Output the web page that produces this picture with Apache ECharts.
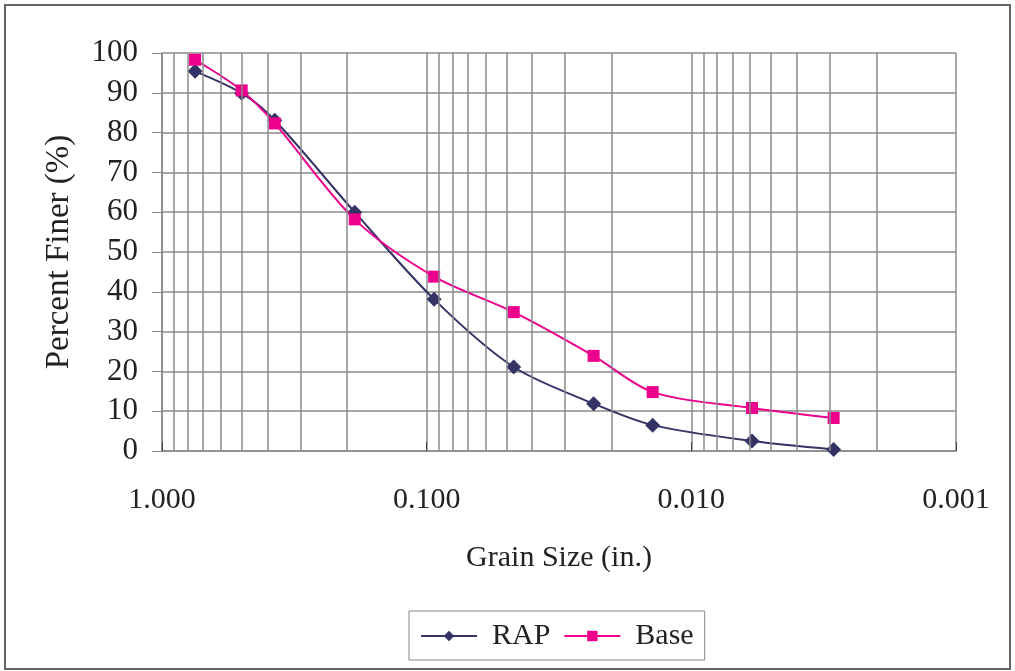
<!DOCTYPE html>
<html>
<head>
    <meta charset="utf-8">
    <title>Grain Size</title>
    <script src="https://cdn.jsdelivr.net/npm/echarts@6/dist/echarts.min.js"></script>
    <style type="text/css">
        html,body{
            margin: 0;
            width: 100%;
            height: 100%;
            background: #fff;
        }
        #main{
            width: 1015px;
            height: 671px;
        }
    </style>
</head>
<body>
    <div id="main"></div>
    <script>
        // grain size (in.), sieve openings
        var sizes = [0.75, 0.5, 0.375, 0.187, 0.0937, 0.0469, 0.0234, 0.0140, 0.0059, 0.0029];
        // percent finer
        var rap = [95.4, 89.9, 83.1, 60.0, 38.1, 21.1, 11.9, 6.5, 2.5, 0.4];
        var base = [98.3, 90.6, 82.3, 58.2, 43.8, 34.9, 23.9, 14.8, 10.8, 8.3];
        var yTicks = [0, 10, 20, 30, 40, 50, 60, 70, 80, 90, 100];
        // minor log grid lines
        var decades = [1, 0.1, 0.01];
        var steps = [9, 8, 7, 6, 5, 4, 3, 2];

        var minorLines = [];
        decades.forEach(function (d) {
            steps.forEach(function (s) {
                minorLines.push({ xAxis: d * s / 10 });
            });
        });

        function pairs(ys) {
            return sizes.map(function (x, i) { return [x, ys[i]]; });
        }

        var font = 'Liberation Serif';
        var gridColor = '#8a8a8a';

        var myChart = echarts.init(document.getElementById('main'));
        var option = {
            animation: false,
            textStyle: { fontFamily: font },
            graphic: [{
                type: 'rect',
                shape: { x: 5, y: 5, width: 1005, height: 664 },
                style: { fill: 'none', stroke: '#666', lineWidth: 2 },
                z: 0
            }],
            grid: {
                left: 162,
                right: 59,
                top: 53,
                bottom: 220
            },
            legend: {
                data: ['RAP', 'Base'],
                left: 409,
                top: 611,
                itemWidth: 56,
                itemHeight: 13,
                itemGap: 13,
                padding: [10, 11, 9, 11],
                borderColor: '#888',
                borderWidth: 1,
                textStyle: {
                    fontFamily: font,
                    fontSize: 30,
                    color: '#222',
                    padding: [0, 0, 0, 10]
                }
            },
            xAxis: {
                type: 'log',
                logBase: 10,
                inverse: true,
                min: 0.001,
                max: 1,
                name: 'Grain Size (in.)',
                nameLocation: 'middle',
                nameGap: 92,
                nameTextStyle: { fontFamily: font, fontSize: 30, color: '#222' },
                axisLine: { show: true, lineStyle: { color: gridColor, width: 1.5 } },
                axisTick: { show: true, inside: true, length: 9, lineStyle: { color: '#444' } },
                axisLabel: {
                    fontFamily: font,
                    fontSize: 30,
                    color: '#222',
                    margin: 34,
                    formatter: function (v) { return v.toFixed(3); }
                },
                splitLine: { show: true, lineStyle: { color: gridColor, width: 1.5 } }
            },
            yAxis: {
                type: 'value',
                min: 0,
                max: 100,
                interval: 10,
                name: 'Percent Finer (%)',
                nameLocation: 'middle',
                nameGap: 86,
                nameRotate: 90,
                nameTextStyle: { fontFamily: font, fontSize: 33, color: '#222' },
                axisLine: { show: true, lineStyle: { color: gridColor, width: 1.5 } },
                axisTick: { show: true, length: 10, lineStyle: { color: gridColor } },
                axisLabel: {
                    fontFamily: font,
                    fontSize: 31,
                    color: '#222',
                    margin: 24,
                    customValues: yTicks
                },
                splitLine: { show: true, lineStyle: { color: gridColor, width: 1.5 } }
            },
            series: [
                {
                    name: 'grid',
                    type: 'line',
                    data: [],
                    silent: true,
                    z: 1,
                    markLine: {
                        silent: true,
                        precision: 6,
                        symbol: ['none', 'none'],
                        label: { show: false },
                        lineStyle: { color: gridColor, width: 1.5, type: 'solid' },
                        data: minorLines
                    }
                },
                {
                    name: 'RAP',
                    type: 'line',
                    data: pairs(rap),
                    smooth: 0.3,
                    symbol: 'diamond',
                    symbolSize: 15,
                    z: 3,
                    itemStyle: { color: '#333366' },
                    lineStyle: { color: '#333366', width: 2 }
                },
                {
                    name: 'Base',
                    type: 'line',
                    data: pairs(base),
                    smooth: 0.3,
                    symbol: 'rect',
                    symbolSize: 12,
                    z: 4,
                    itemStyle: { color: '#ec008c' },
                    lineStyle: { color: '#ec008c', width: 2 }
                }
            ]
        };
        myChart.setOption(option);
    </script>
</body>
</html>
